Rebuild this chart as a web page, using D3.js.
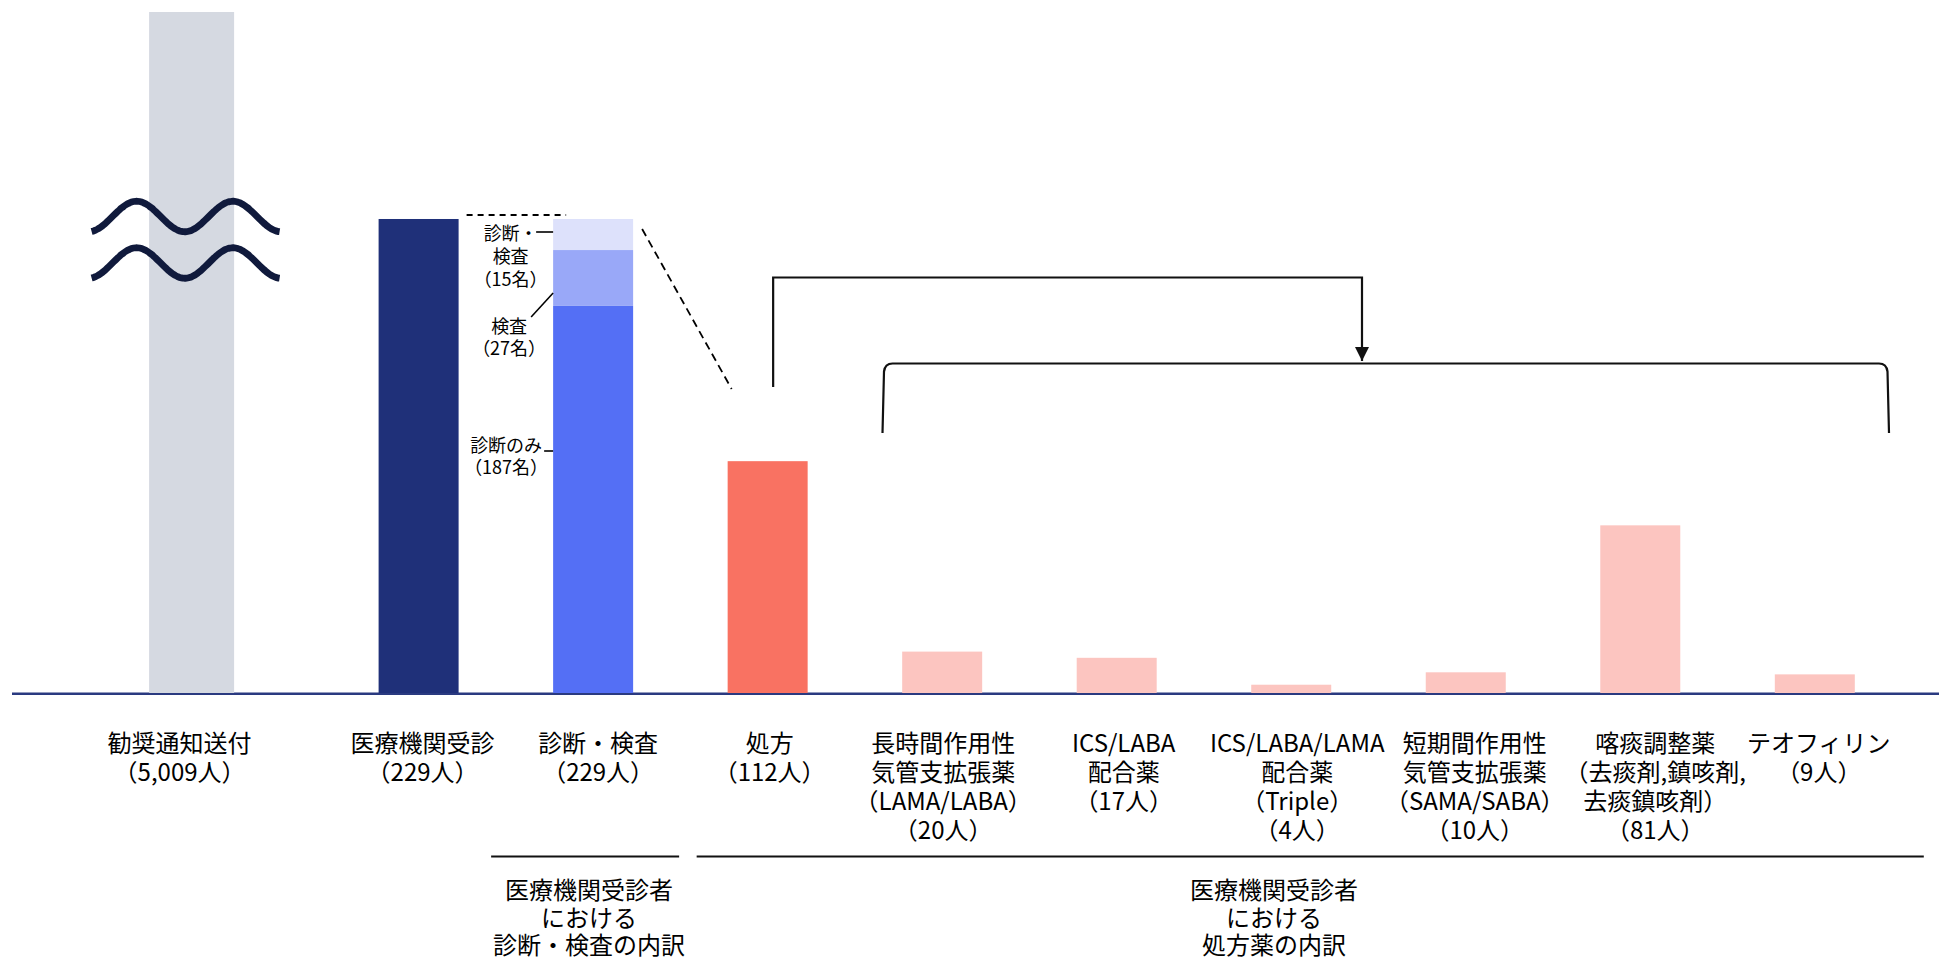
<!DOCTYPE html>
<html>
<head>
<meta charset="utf-8">
<script src="https://cdn.jsdelivr.net/npm/d3@7"></script>
<style>
  body { margin: 0; background: #fff; }
  svg { display: block; }
  text { font-family: "Noto Sans CJK JP", "Noto Sans", sans-serif; fill: #000; }
</style>
</head>
<body>
<svg id="chart" width="1939" height="959"></svg>
<script>
// ---------------- DATA ----------------
const categoryNames = [
  ["勧奨通知送付"],
  ["医療機関受診"],
  ["診断・検査"],
  ["処方"],
  ["長時間作用性", "気管支拡張薬", "（LAMA/LABA）"],
  ["ICS/LABA", "配合薬"],
  ["ICS/LABA/LAMA", "配合薬", "（Triple）"],
  ["短期間作用性", "気管支拡張薬", "（SAMA/SABA）"],
  ["喀痰調整薬", "（去痰剤,鎮咳剤,", "去痰鎮咳剤）"],
  ["テオフィリン"]
];
const counts = [5009, 229, 229, 112, 20, 17, 4, 10, 81, 9];
const stackNames = ["診断のみ", "検査", "診断・検査"];
const stackValues = [187, 27, 15];
const groupLabels = [
  ["医療機関受診者", "における", "診断・検査の内訳"],
  ["医療機関受診者", "における", "処方薬の内訳"]
];

// ---------------- STYLE / LAYOUT ----------------
const barColors = ["#d5d9e1", "#1f3079", null, "#f97262", "#fcc5c0", "#fcc5c0", "#fcc5c0", "#fcc5c0", "#fcc5c0", "#fcc5c0"];
const stackColors = ["#546ff5", "#99a8f8", "#dde1fb"];
const labelDx = [-12, 4, 5, 2, 1, 7, 6, 9, 15, 4];
const barW = 80, grayW = 85;

const svg = d3.select("#chart");
const keys = categoryNames.map((d, i) => "c" + i);

// x: point scale for the evenly spaced bars; the broken bar sits further left
const xp = d3.scalePoint().domain(keys.slice(1)).range([418.6, 1814.8]);
const xc = i => i === 0 ? xp(keys[1]) - 227 : xp(keys[i]);

// y: linear, clamped so the 5,009 bar is cut at the top (broken axis)
const y = d3.scaleLinear().domain([0, 329]).range([693, 12]).clamp(true);

// multi-line text helper: one <text> per block, lines as tspans
function multiText(parent, lines, x, y0, lh, size) {
  const t = parent.append("text").attr("x", x).attr("y", y0)
    .attr("font-size", size).attr("text-anchor", "middle").attr("dominant-baseline", "central");
  lines.forEach((s, j) => t.append("tspan").attr("x", x).attr("dy", j === 0 ? 0 : lh).text(s));
  return t;
}

// baseline
svg.append("line")
  .attr("x1", 12).attr("x2", 1939)
  .attr("y1", y(0) + 0.8).attr("y2", y(0) + 0.8)
  .attr("stroke", "#2a3a80").attr("stroke-width", 2.6);

// simple bars
const simple = counts.map((v, i) => ({ v, i })).filter(d => d.i !== 2);
svg.append("g").selectAll("rect").data(simple).join("rect")
  .attr("x", d => xc(d.i) - (d.i === 0 ? grayW : barW) / 2)
  .attr("width", d => d.i === 0 ? grayW : barW)
  .attr("y", d => y(d.v))
  .attr("height", d => y(0) - y(d.v))
  .attr("fill", d => barColors[d.i]);

// stacked bar for 診断・検査
const cum = d3.cumsum(stackValues);
const stackData = stackValues.map((v, k) => ({ v, k, y0: cum[k] - v, y1: cum[k] }));
svg.append("g").selectAll("rect").data(stackData).join("rect")
  .attr("x", xc(2) - barW / 2).attr("width", barW)
  .attr("y", d => y(d.y1))
  .attr("height", d => y(d.y0) - y(d.y1))
  .attr("fill", d => stackColors[d.k]);

// wave break symbol on the 5,009 bar
const gx = xc(0);
const wave = d3.line().curve(d3.curveBasis);
[216.5, 263].forEach(cy => {
  const pts = d3.range(gx - 100, gx + 88.5, 2).map(x => [x, cy - 15.3 * Math.cos(2 * Math.PI * (x - (gx - 55)) / 96.3)]);
  svg.append("path").attr("d", wave(pts))
    .attr("fill", "none").attr("stroke", "#101a3c").attr("stroke-width", 6.8)
    .attr("stroke-linecap", "butt");
});

// category labels
const fmt = d3.format(",");
const catLabels = categoryNames.map((lines, i) => lines.concat([`（${fmt(counts[i])}人）`]));
const lg = svg.append("g");
catLabels.forEach((lines, i) => multiText(lg, lines, xc(i) + labelDx[i], 741, 29, 24));

// stack annotations
const sx = xc(2) - barW / 2;   // left edge of stacked bar
const ag = svg.append("g");
multiText(ag, ["診断・", "検査", `（${stackValues[2]}名）`], sx - 42.5, 232, 23, 18);
multiText(ag, [stackNames[1], `（${stackValues[1]}名）`], sx - 44, 325, 22, 18);
multiText(ag, [stackNames[0], `（${stackValues[0]}名）`], sx - 47, 444, 22, 18);

const lineAttr = sel => sel.attr("stroke", "#000").attr("stroke-width", 1.6).attr("fill", "none");
lineAttr(svg.append("line").attr("x1", sx - 17).attr("x2", sx).attr("y1", 232).attr("y2", 232));
lineAttr(svg.append("line").attr("x1", sx - 22).attr("x2", sx).attr("y1", 317).attr("y2", 293));
lineAttr(svg.append("line").attr("x1", sx - 9).attr("x2", sx).attr("y1", 451).attr("y2", 451));

// dashed zoom guides
svg.append("line").attr("x1", xc(1) + barW / 2 + 8).attr("x2", xc(2) - 27).attr("y1", y(229) - 4).attr("y2", y(229) - 4)
  .attr("stroke", "#000").attr("stroke-width", 2).attr("stroke-dasharray", "6,5");
svg.append("line").attr("x1", xc(2) + barW / 2 + 9).attr("y1", 229).attr("x2", xc(3) - 36).attr("y2", 389)
  .attr("stroke", "#000").attr("stroke-width", 1.8).attr("stroke-dasharray", "8,5");

// arrow from 処方 to the breakdown bracket
const ax0 = xc(3) + 5.5, ax1 = 1362, ay = 277.5;
svg.append("defs").append("marker").attr("id", "arr")
  .attr("viewBox", "0 0 10 10").attr("refX", 10).attr("refY", 5)
  .attr("markerWidth", 6.5).attr("markerHeight", 6.5).attr("markerUnits", "strokeWidth")
  .attr("orient", "auto")
  .append("path").attr("d", "M0,0 L10,5 L0,10 Z").attr("fill", "#111");
svg.append("path")
  .attr("d", `M${ax0},387 L${ax0},${ay} L${ax1},${ay} L${ax1},361`)
  .attr("fill", "none").attr("stroke", "#111").attr("stroke-width", 2.2)
  .attr("marker-end", "url(#arr)");

// bracket over the prescription breakdown
const bl = 882.5, br = 1889, bt = 363.5, bb = 433;
svg.append("path")
  .attr("d", `M${bl},${bb} L${bl + 1.5},${bt + 8} Q${bl + 2.5},${bt} ${bl + 10},${bt} L${br - 10},${bt} Q${br - 2.5},${bt} ${br - 1.5},${bt + 8} L${br},${bb}`)
  .attr("fill", "none").attr("stroke", "#111").attr("stroke-width", 2.2);

// group underlines and labels
const groups = [
  { x1: xc(2) - 102, x2: xc(2) + 86, cx: 589 },
  { x1: xc(3) - 71, x2: xc(9) + 109, cx: 1274 }
];
groups.forEach((g, gi) => {
  svg.append("line").attr("x1", g.x1).attr("x2", g.x2).attr("y1", 856.5).attr("y2", 856.5)
    .attr("stroke", "#111").attr("stroke-width", 2);
  multiText(svg, groupLabels[gi], g.cx, 888, 27.5, 24);
});
</script>
</body>
</html>
